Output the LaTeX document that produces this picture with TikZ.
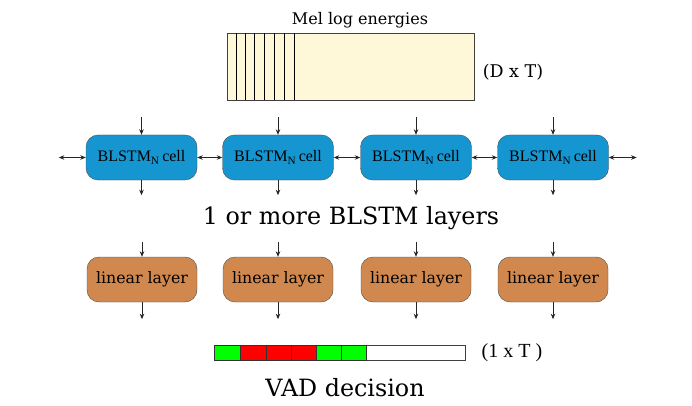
\documentclass[tikz,border=0pt]{standalone}
\usepackage{fontspec}
\setmainfont{DejaVu Serif}
\newfontfamily\cellfont{Liberation Serif}
\usetikzlibrary{arrows.meta}
\definecolor{cellblue}{RGB}{22,150,208}
\definecolor{linbrown}{RGB}{208,136,78}
\definecolor{melcream}{RGB}{255,248,216}
\begin{document}
\begin{tikzpicture}[x=1pt,y=-1pt,
	arr/.style={-{Stealth[length=5.5pt,width=4.5pt]}, draw=black!85, line width=0.8pt},
	darr/.style={{Stealth[length=5.5pt,width=4.5pt]}-{Stealth[length=5.5pt,width=4.5pt]}, draw=black!85, line width=0.8pt},
	lstmcell/.style={draw=black!70, fill=cellblue, rounded corners=12pt, minimum width=111pt, minimum height=45pt, inner sep=0pt, font=\cellfont\fontsize{16}{19}\selectfont},
	linlayer/.style={draw=black!70, fill=linbrown, rounded corners=12pt, minimum width=110pt, minimum height=45pt, inner sep=0pt, font=\fontsize{15.8}{19}\selectfont}]
	\useasboundingbox (0,0) rectangle (692,406);

	% input features
	\node[font=\fontsize{16}{19}\selectfont] (meltxt) at (360,20) {Mel log energies};
	\draw[fill=melcream, draw=black!75] (227,33) rectangle (474,100);
	\foreach \xx in {236,245,254,264,274,284,294}
		\draw[black] (\xx,33) -- (\xx,100);
	\node[font=\fontsize{17.5}{20}\selectfont] (dxt) at (513,72) {(D x T)};

	% BLSTM layer
	\foreach \i/\xx in {1/141.5,2/278,3/416,4/553}{
		\node[lstmcell] (b\i) at (\xx,157.5) {BLSTM\textsubscript{N}\,cell};
		\draw[arr] ([yshift=18pt]b\i.north) -- (b\i.north);
		\draw[arr] (b\i.south) -- ([yshift=-15pt]b\i.south);
	}
	\draw[darr] ([xshift=-27pt]b1.west) -- (b1.west);
	\draw[darr] (b1.east) -- (b2.west);
	\draw[darr] (b2.east) -- (b3.west);
	\draw[darr] (b3.east) -- (b4.west);
	\draw[darr] (b4.east) -- ([xshift=28pt]b4.east);
	\node[font=\fontsize{23.8}{28}\selectfont] (blstmtxt) at (351,218) {1 or more BLSTM layers};

	% linear layers
	\foreach \i/\xx in {1/142,2/278,3/416,4/553}{
		\node[linlayer] (l\i) at (\xx,279.5) {linear layer};
		\draw[arr] ([yshift=15pt]l\i.north) -- (l\i.north);
		\draw[arr] (l\i.south) -- ([yshift=-17pt]l\i.south);
	}

	% output decisions
	\draw[fill=white, draw=black!75] (214,345) rectangle (465,360);
	\foreach \xa/\xb/\cc in {214/240/green,240/266/red,266/291/red,291/316/red,316/341/green,341/366/green}
		\draw[fill=\cc, draw=black!80] (\xa,345) rectangle (\xb,360);
	\node[font=\cellfont\fontsize{20}{23}\selectfont] (oxt) at (512,353) {(1 x T )};
	\node[font=\fontsize{23.8}{28}\selectfont] (vadtxt) at (345,388) {VAD decision};
\end{tikzpicture}
\end{document}
